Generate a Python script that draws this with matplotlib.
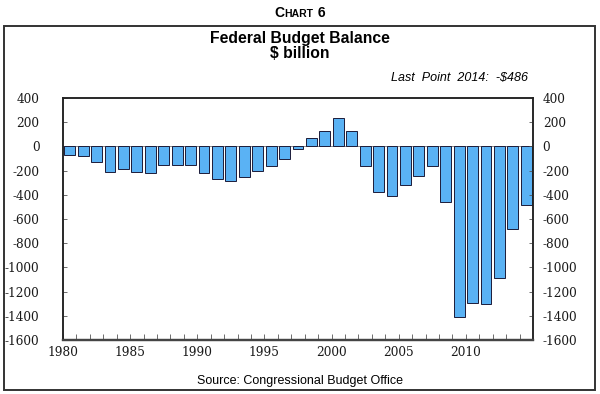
import matplotlib
matplotlib.use("Agg")
import matplotlib.pyplot as plt
from matplotlib.patches import Rectangle

# Federal budget balance, $ billion (CBO)
years = list(range(1980, 2015))
balance = [-74, -79, -128, -208, -185, -212, -221, -150, -155, -153,
           -221, -269, -290, -255, -203, -164, -107, -22, 69, 126,
           236, 128, -158, -378, -413, -318, -248, -161, -459, -1413,
           -1294, -1300, -1087, -680, -486]
ytick_vals = list(range(-1600, 401, 200))
xtick_years = [1980, 1985, 1990, 1995, 2000, 2005, 2010]

W, H = 600, 394
fig = plt.figure(figsize=(6, 3.94), dpi=100)

# outer frame
fig.patches.append(Rectangle((3.5 / W, 1 - 390 / H), 591.5 / W, 364 / H,
                             transform=fig.transFigure, fill=False,
                             edgecolor="#333333", linewidth=1.4))

ax = fig.add_axes([63 / W, 1 - 340 / H, 470 / W, 242 / H])
ax.bar([y + 0.5 for y in years], balance, width=0.8, color="#5AB2F4",
       edgecolor="#1c1c3a", linewidth=0.7, zorder=2)
ax.axhline(0, color="#777777", linewidth=0.6, zorder=1)

ax.set_xlim(1980, 2015)
ax.set_ylim(-1600, 400)
ax.set_yticks(ytick_vals)
ax.set_yticklabels([str(v) for v in ytick_vals])
ax.set_xticks(xtick_years)
ax.set_xticklabels([str(y) for y in xtick_years])
ax.set_xticks(years[1:], minor=True)

# right-hand axis with the same scale
ax2 = ax.twinx()
ax2.set_ylim(-1600, 400)
ax2.set_yticks(ytick_vals)
ax2.set_yticklabels([str(v) for v in ytick_vals])

lab_font = "DejaVu Serif"
for lab in ax.get_xticklabels() + ax.get_yticklabels() + ax2.get_yticklabels():
    lab.set_fontfamily(lab_font)
    lab.set_fontsize(8.7)
    lab.set_color("#1a1a1a")

ax.tick_params(axis="y", direction="in", length=3, width=0.6, color="#555555",
               pad=17)
ax2.tick_params(axis="y", direction="in", length=3, width=0.6, color="#555555",
                pad=7)
ax.tick_params(axis="x", which="both", direction="in", length=4, width=0.6,
               color="#555555", pad=4)

for a in (ax, ax2):
    for side in ["left", "right", "top"]:
        a.spines[side].set_color("#222222")
        a.spines[side].set_linewidth(1.1)
    a.spines["bottom"].set_color("#444444")
    a.spines["bottom"].set_linewidth(1.6)

# header "CHART 6" in small caps
t1 = fig.text(0, 0, "C", fontsize=10, fontweight="bold", family="Liberation Sans")
t2 = fig.text(0, 0, "HART", fontsize=7.5, fontweight="bold", family="Liberation Sans")
t3 = fig.text(0, 0, " 6", fontsize=10, fontweight="bold", family="Liberation Sans")
fig.canvas.draw()
r = fig.canvas.get_renderer()
w1 = t1.get_window_extent(r).width
w2 = t2.get_window_extent(r).width
w3 = t3.get_window_extent(r).width
x0 = (W - (w1 + w2 + w3)) / 2
base = H - 17
t1.set_position((x0 / W, base / H))
t2.set_position(((x0 + w1) / W, base / H))
t3.set_position(((x0 + w1 + w2) / W, base / H))

fig.text(0.5, 1 - 38 / H, "Federal Budget Balance", ha="center", va="center",
         fontsize=11.3, fontweight="bold", family="Liberation Sans")
fig.text(0.5, 1 - 53 / H, "$ billion", ha="center", va="center",
         fontsize=11.3, fontweight="bold", family="Liberation Sans")
fig.text(528 / W, 1 - 78 / H, "Last  Point  2014:  -$486", ha="right",
         va="center", fontsize=9, style="italic", family="Liberation Sans")
fig.text(0.5, 1 - 381 / H, "Source: Congressional Budget Office",
         ha="center", va="center", fontsize=9, family="Liberation Sans")

fig.savefig("out.png", dpi=100)
